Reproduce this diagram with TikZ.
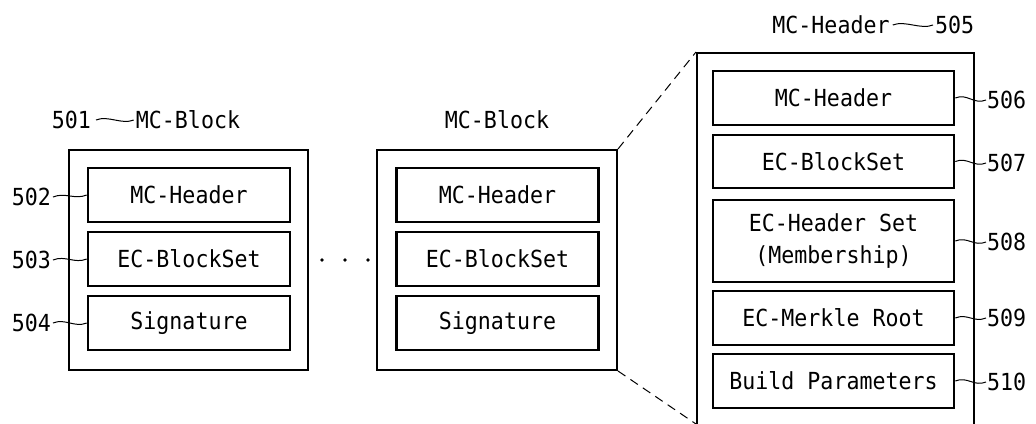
\documentclass[tikz,border=0pt]{standalone}
\usepackage{fontspec}
\setmonofont{DejaVu Sans Mono}[FakeStretch=0.92]
\usepackage{tikz}
\usetikzlibrary{positioning,calc}
\newcommand{\figfont}{\ttfamily\fontsize{23.5}{32}\selectfont}
\tikzset{
  outerbox/.style={draw,line width=2pt,inner sep=0pt},
  field/.style={draw,line width=2.6pt,inner sep=0pt,minimum width=202,minimum height=54,font=\figfont,align=center},
  widefield/.style={field,minimum width=241},
  reflabel/.style={inner sep=0pt,font=\figfont},
  leader/.style={line width=1pt},
  zoomline/.style={line width=1pt,dash pattern=on 9pt off 6pt},
}

\begin{document}
\begin{tikzpicture}[x=1pt,y=-1pt]
  \useasboundingbox (0,0) rectangle (1036,423);
  \clip (0,0) rectangle (1036,423);

  % first block
  \node[outerbox,minimum width=239,minimum height=220] (blkA) at (188.5,260) {};
  \node[field] (hdrA) at (189,195) {MC-Header};
  \node[field] (setA) at (189,259) {EC-BlockSet};
  \node[field] (sigA) at (189,323) {Signature};
  \node[reflabel] (ttlA) at (188,120) {MC-Block};
  \node[reflabel,anchor=east] (l501) at (91,120) {501};
  \node[reflabel,anchor=east] (l502) at (51,197) {502};
  \node[reflabel,anchor=east] (l503) at (51,260) {503};
  \node[reflabel,anchor=east] (l504) at (51,323) {504};
  \draw[leader] ([xshift=5pt]l501.east) .. controls +(12,-5) and +(-12,5) .. ([xshift=-2pt]ttlA.west);
  \draw[leader] ([xshift=2pt]l502.east) .. controls +(12,-5) and +(-12,5) .. (hdrA.west);
  \draw[leader] ([xshift=2pt]l503.east) .. controls +(12,-5) and +(-12,5) .. (setA.west);
  \draw[leader] ([xshift=2pt]l504.east) .. controls +(12,-5) and +(-12,5) .. (sigA.west);

  \foreach \x in {322,345,368}
    \fill (\x,260) circle (1.8);

  % last block
  \node[outerbox,minimum width=240,minimum height=220] (blkB) at (497,260) {};
  \node[field] (hdrB) at (497.5,195) {MC-Header};
  \node[field] (setB) at (497.5,259) {EC-BlockSet};
  \node[field] (sigB) at (497.5,323) {Signature};
  \node[reflabel] (ttlB) at (497,120) {MC-Block};

  % enlarged header
  \node[outerbox,minimum width=277,minimum height=420,anchor=north west] (blkC) at (696,52) {};
  \node[widefield] (hdrC) at (833.5,98) {MC-Header};
  \node[widefield,minimum height=53] (setC) at (833.5,161.5) {EC-BlockSet};
  \node[widefield,minimum height=82] (memC) at (833.5,241) {EC-Header Set\\(Membership)};
  \node[widefield] (rootC) at (833.5,318) {EC-Merkle Root};
  \node[widefield] (parC) at (833.5,381) {Build Parameters};
  \node[reflabel] (ttlC) at (831,25) {MC-Header};
  \node[reflabel,anchor=west] (l505) at (935,25) {505};
  \node[reflabel,anchor=west] (l506) at (987,100) {506};
  \node[reflabel,anchor=west] (l507) at (987,163) {507};
  \node[reflabel,anchor=west] (l508) at (987,242) {508};
  \node[reflabel,anchor=west] (l509) at (987,318) {509};
  \node[reflabel,anchor=west] (l510) at (987,382) {510};
  \draw[leader] ([xshift=3pt]ttlC.east) .. controls +(12,-5) and +(-12,5) .. ([xshift=-2pt]l505.west);
  \draw[leader] (hdrC.east) .. controls +(12,-5) and +(-12,5) .. ([xshift=-1pt]l506.west);
  \draw[leader] (setC.east) .. controls +(12,-5) and +(-12,5) .. ([xshift=-1pt]l507.west);
  \draw[leader] (memC.east) .. controls +(12,-5) and +(-12,5) .. ([xshift=-1pt]l508.west);
  \draw[leader] (rootC.east) .. controls +(12,-5) and +(-12,5) .. ([xshift=-1pt]l509.west);
  \draw[leader] (parC.east) .. controls +(12,-5) and +(-12,5) .. ([xshift=-1pt]l510.west);

  \coordinate (edge) at (0,424);
  \draw[zoomline] (blkB.north east) -- (blkC.north west);
  \draw[zoomline] (blkB.south east) -- (blkC.west |- edge);
\end{tikzpicture}
\end{document}
